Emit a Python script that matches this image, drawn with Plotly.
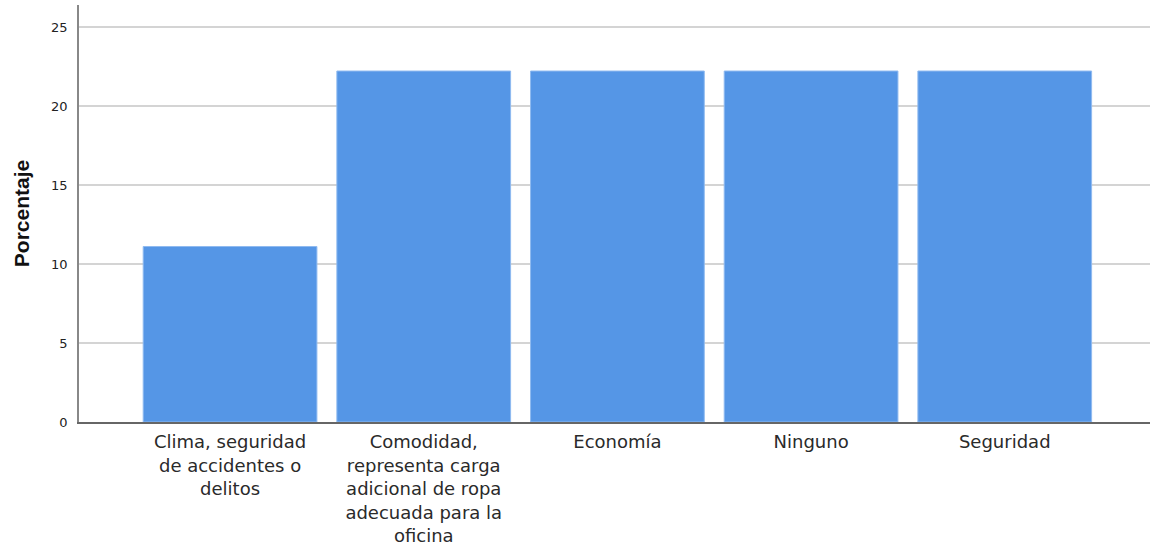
import plotly.graph_objects as go

# Response categories (wrapped for the axis) and their percentages
categories = [
    "Clima, seguridad<br>de accidentes o<br>delitos",
    "Comodidad,<br>representa carga<br>adicional de ropa<br>adecuada para la<br>oficina",
    "Economía",
    "Ninguno",
    "Seguridad",
]
percentages = [11.11, 22.22, 22.22, 22.22, 22.22]
y_ticks = [0, 5, 10, 15, 20, 25]

fig = go.Figure(
    go.Bar(
        x=categories,
        y=percentages,
        marker=dict(color="#5596e6", line=dict(color="#8fbaf0", width=1)),
        hoverinfo="x+y",
    )
)

fig.update_layout(
    width=1152,
    height=545,
    margin=dict(l=79, r=2, t=5, b=123),
    paper_bgcolor="white",
    plot_bgcolor="white",
    bargap=0.103,
    showlegend=False,
    font=dict(family="DejaVu Sans, sans-serif", color="#222222"),
)

fig.update_xaxes(
    type="category",
    range=[-0.78, 4.75],
    automargin=False,
    showgrid=False,
    showline=True,
    linecolor="#666666",
    linewidth=1.5,
    ticks="",
    ticklabelstandoff=3,
    tickfont=dict(family="DejaVu Sans, sans-serif", size=18, color="#2a2a2a"),
    tickangle=0,
)

fig.update_yaxes(
    range=[0, 26.4],
    tickvals=y_ticks,
    automargin=False,
    showgrid=True,
    gridcolor="#d4d4d4",
    gridwidth=1.5,
    showline=True,
    linecolor="#888888",
    linewidth=1.5,
    zeroline=False,
    ticks="",
    ticklabelstandoff=7,
    tickfont=dict(family="DejaVu Sans, sans-serif", size=13, color="#222222"),
    title=dict(
        text="<b>Porcentaje</b>",
        font=dict(family="Liberation Sans, Arial, sans-serif", size=21, color="#111111"),
        standoff=16,
    ),
)

fig.write_html("out.html")
